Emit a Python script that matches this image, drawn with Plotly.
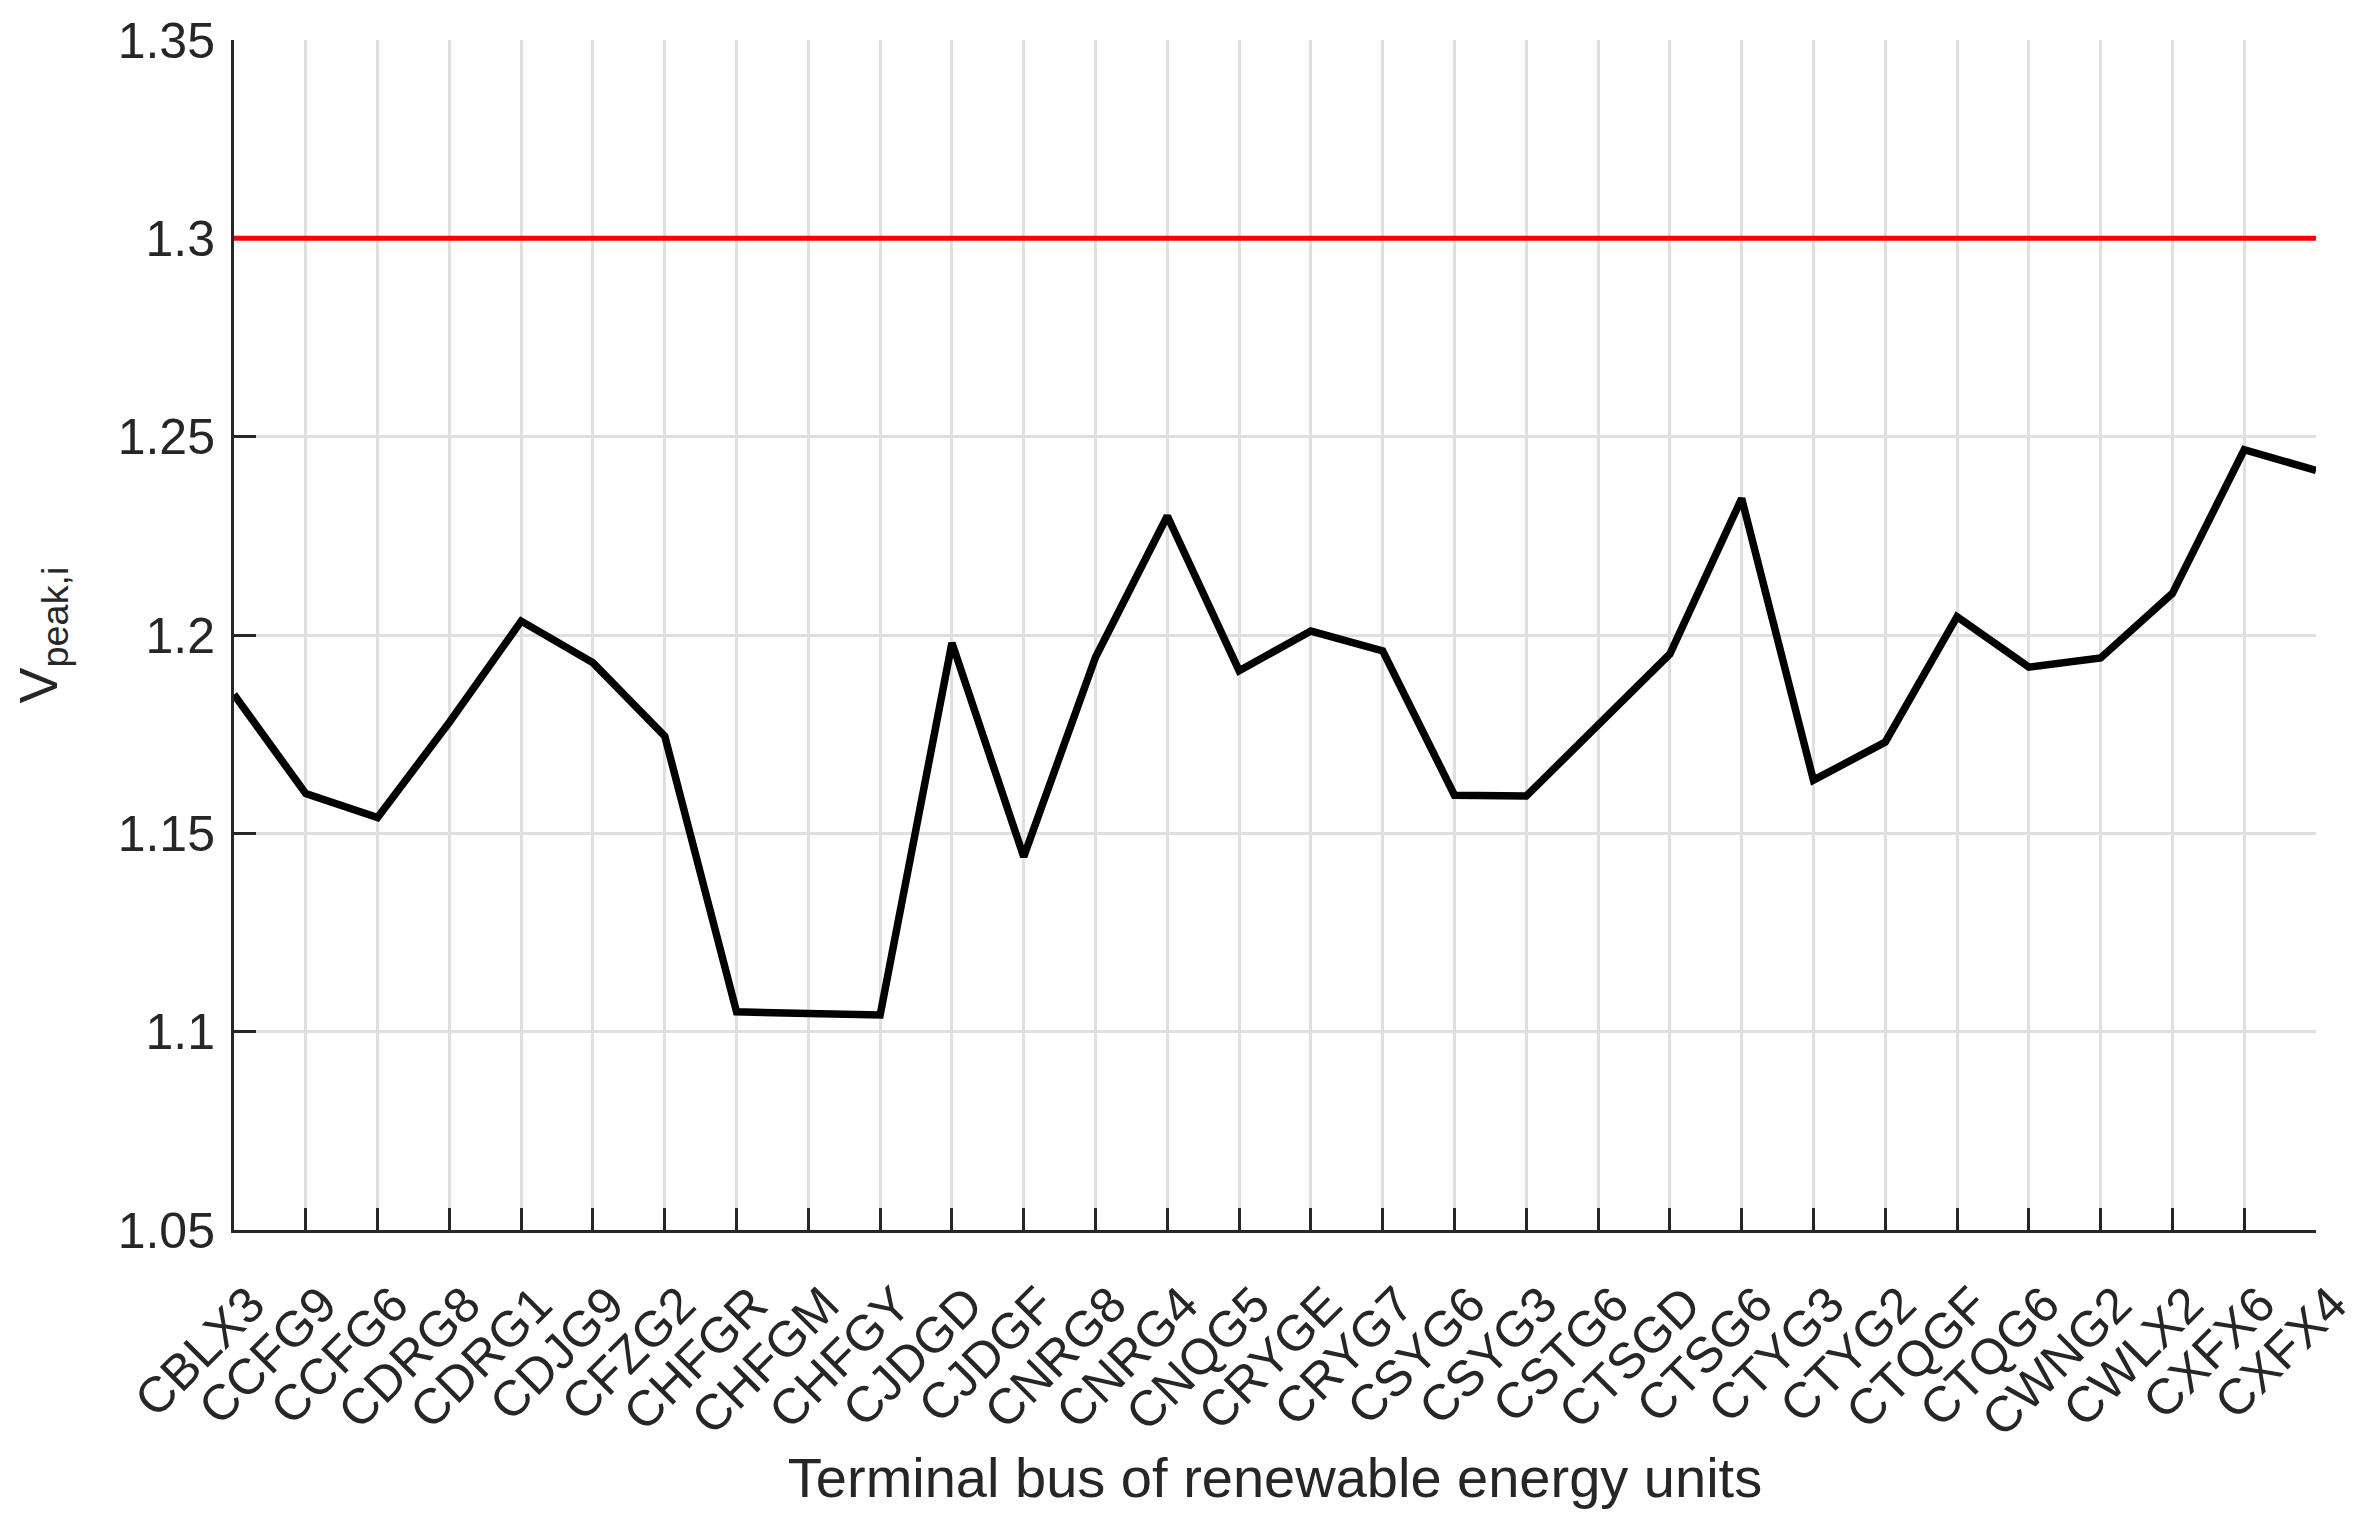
import plotly.graph_objects as go

# Terminal buses of the renewable energy units
buses = [
    "CBLX3", "CCFG9", "CCFG6", "CDRG8", "CDRG1", "CDJG9", "CFZG2", "CHFGR",
    "CHFGM", "CHFGY", "CJDGD", "CJDGF", "CNRG8", "CNRG4", "CNQG5", "CRYGE",
    "CRYG7", "CSYG6", "CSYG3", "CSTG6", "CTSGD", "CTSG6", "CTYG3", "CTYG2",
    "CTQGF", "CTQG6", "CWNG2", "CWLX2", "CXFX6", "CXFX4",
]

# Peak voltage per bus (p.u.)
v_peak = [
    1.185, 1.160, 1.154, 1.178, 1.2035, 1.193, 1.1745, 1.105,
    1.1046, 1.1042, 1.198, 1.1441, 1.1944, 1.230, 1.191, 1.201,
    1.196, 1.1596, 1.1594, 1.177, 1.1952, 1.2344, 1.1634, 1.173,
    1.2046, 1.1919, 1.1942, 1.2105, 1.2467, 1.2415,
]

LIMIT = 1.3
y_ticks = [1.05, 1.1, 1.15, 1.2, 1.25, 1.3, 1.35]

FONT = "Liberation Sans, Arial, Helvetica, sans-serif"
AXIS_COLOR = "#262626"
GRID_COLOR = "#dfdfdf"

fig = go.Figure()

fig.add_trace(go.Scatter(
    x=buses, y=v_peak,
    mode="lines",
    line=dict(color="black", width=7.5),
    showlegend=False,
))

# Voltage limit
fig.add_hline(y=LIMIT, line=dict(color="#ff0000", width=5), layer="above")

# page body has an 8px margin, so margins are shifted to keep the plot box in place
fig.update_layout(
    width=2373,
    height=1531,
    paper_bgcolor="white",
    plot_bgcolor="white",
    margin=dict(l=226, r=65, t=32, b=309),
    font=dict(family=FONT, size=48, color=AXIS_COLOR),
    showlegend=False,
    xaxis=dict(
        type="category",
        range=[0, len(buses) - 1],
        tickangle=-45,
        tickfont=dict(size=50, color=AXIS_COLOR),
        ticklabelstandoff=22,
        ticklabelshift=16,
        ticks="inside",
        ticklen=22,
        tickwidth=3,
        tickcolor=AXIS_COLOR,
        showline=True,
        linecolor=AXIS_COLOR,
        linewidth=3,
        showgrid=True,
        gridcolor=GRID_COLOR,
        gridwidth=2.5,
        zeroline=False,
        title=dict(
            text="Terminal bus of renewable energy units",
            font=dict(size=56, color=AXIS_COLOR),
            standoff=12,
        ),
        automargin=False,
    ),
    yaxis=dict(
        range=[1.05, 1.35],
        tickvals=y_ticks,
        ticktext=[f"{v:g}" for v in y_ticks],
        tickfont=dict(size=50, color=AXIS_COLOR),
        ticklabelstandoff=6,
        ticks="inside",
        ticklen=22,
        tickwidth=3,
        tickcolor=AXIS_COLOR,
        showline=True,
        linecolor=AXIS_COLOR,
        linewidth=3,
        showgrid=True,
        gridcolor=GRID_COLOR,
        gridwidth=2.5,
        zeroline=False,
        title=dict(
            text="V<sub>peak,i</sub>",
            font=dict(size=54, color=AXIS_COLOR),
            standoff=45,
        ),
        automargin=False,
    ),
)

fig.write_html("out.html")
